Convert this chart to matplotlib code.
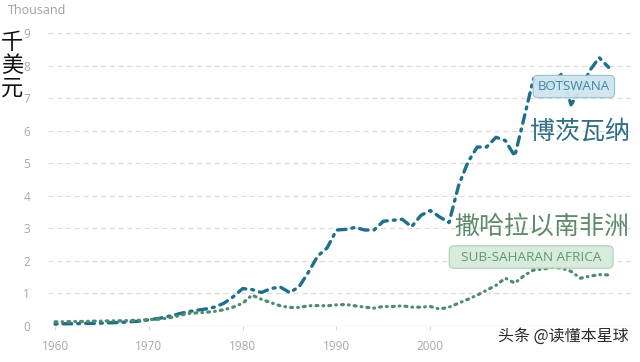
import numpy as np
import matplotlib
matplotlib.use("Agg")
import matplotlib.pyplot as plt

plt.rcParams['font.family'] = ['Open Sans', 'Noto Sans CJK SC', 'DejaVu Sans']

# GDP per capita, thousand US$
years = list(range(1960, 2020))
botswana = [0.06, 0.07, 0.07, 0.08, 0.08, 0.09, 0.10, 0.11, 0.13, 0.15,
            0.19, 0.23, 0.29, 0.36, 0.43, 0.48, 0.52, 0.58, 0.70, 0.90,
            1.15, 1.12, 1.03, 1.15, 1.20, 1.03, 1.20, 1.65, 2.15, 2.40,
            2.95, 2.97, 3.03, 2.95, 2.95, 3.22, 3.25, 3.28, 3.05, 3.40,
            3.55, 3.35, 3.18, 4.30, 5.03, 5.50, 5.50, 5.80, 5.70, 5.22,
            6.40, 7.60, 7.25, 7.45, 7.75, 6.80, 7.25, 7.85, 8.25, 7.95]
ssa = [0.13, 0.13, 0.14, 0.14, 0.15, 0.15, 0.16, 0.16, 0.17, 0.18,
       0.20, 0.21, 0.24, 0.30, 0.38, 0.40, 0.42, 0.45, 0.50, 0.58,
       0.70, 0.95, 0.82, 0.72, 0.62, 0.57, 0.57, 0.62, 0.63, 0.62,
       0.65, 0.66, 0.62, 0.58, 0.55, 0.60, 0.60, 0.62, 0.58, 0.58,
       0.60, 0.52, 0.58, 0.70, 0.82, 0.95, 1.10, 1.25, 1.47, 1.32,
       1.55, 1.72, 1.75, 1.80, 1.78, 1.68, 1.47, 1.53, 1.58, 1.57]
yticks = list(range(0, 10))
xticks = [1960, 1970, 1980, 1990, 2000]

teal = '#1d6f8c'
green = '#4e8c6c'

fig = plt.figure(figsize=(6.4, 3.62), dpi=100)
ax = fig.add_axes([0.075, 0.0994, 0.9125, 0.827])

# gridlines
for v in yticks[1:]:
    ax.axhline(v, color='#dcdcdc', lw=0.9, ls=(0, (4, 3)), zorder=0)
ax.axhline(0, color='#e0e0e0', lw=1.0, zorder=0)

ax.plot(years, botswana, color=teal, lw=2.4, ls=(0, (0.6, 1.8, 2.6, 1.8)),
        dash_capstyle='round', clip_on=False, zorder=2)
ax.plot(years, ssa, color=green, lw=2.3, ls=(0, (0.6, 1.6, 0.2, 1.6)),
        dash_capstyle='round', clip_on=False, zorder=3)

ax.set_xlim(1959.25, 2021.5)
ax.set_ylim(0, 9.2)
ax.set_yticks(yticks)
ax.set_xticks(xticks)
ax.tick_params(axis='y', length=0, labelsize=8.5, labelcolor='#a8a8a8', pad=13)
ax.tick_params(axis='x', length=3, color='#d8d8d8', labelsize=8.5,
               labelcolor='#a8a8a8', pad=7)
for s in ax.spines.values():
    s.set_visible(False)

# series labels
ax.text(2015.3, 7.36, 'BOTSWANA', color='#3f86a6', fontsize=9.5,
        ha='center', va='center', zorder=5,
        bbox=dict(boxstyle='round,pad=0.35', fc='#cfe5ef', ec='#8fc0d6', lw=0.8, alpha=0.95))
ax.text(2010.6, 5.98, '博茨瓦纳', color='#2f6e86', fontsize=18,
        ha='left', va='center', zorder=5, family=['Noto Sans CJK SC'])
ax.text(2002.6, 3.04, '撒哈拉以南非洲', color='#5f8a6b', fontsize=18,
        ha='left', va='center', zorder=5, family=['Noto Sans CJK SC'])
ax.text(2010.75, 2.12, '  SUB-SAHARAN AFRICA  ', color='#5c9a74', fontsize=9.7,
        ha='center', va='center', zorder=5,
        bbox=dict(boxstyle='round,pad=0.35', fc='#d6eadb', ec='#a8cdb3', lw=0.8, alpha=0.95))

fig.text(0.012, 0.972, 'Thousand', color='#a0a0a0', fontsize=9, ha='left', va='center')
fig.text(0.019, 0.82, '千\n美\n元', color='#111111', fontsize=16, ha='center', va='center',
         linespacing=1.0, family=['Noto Sans CJK SC'])
fig.text(0.982, 0.072, '头条 @读懂本星球', color='#2a2a2a', fontsize=11.5,
         ha='right', va='center', family=['Noto Sans CJK SC'])

fig.savefig('out.png', dpi=100, facecolor='white')
